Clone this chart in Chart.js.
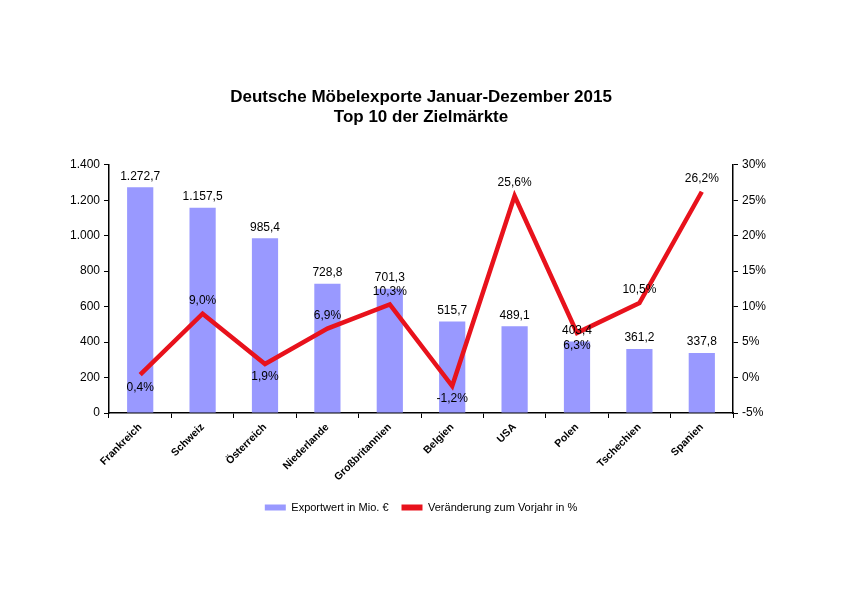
<!DOCTYPE html>
<html>
<head>
<meta charset="utf-8">
<script src="https://cdn.jsdelivr.net/npm/chart.js@4.4.1/dist/chart.umd.min.js"></script>
<style>
  html, body { margin: 0; padding: 0; background: #fff; }
  #wrap { width: 842px; height: 595px; }
</style>
</head>
<body>
<div id="wrap"><canvas id="c" width="842" height="595"></canvas></div>
<script>
// data
const countries = ["Frankreich", "Schweiz", "Österreich", "Niederlande", "Großbritannien", "Belgien", "USA", "Polen", "Tschechien", "Spanien"];
const exportValues = [1272.7, 1157.5, 985.4, 728.8, 701.3, 515.7, 489.1, 403.4, 361.2, 337.8];
const changePct = [0.4, 9.0, 1.9, 6.9, 10.3, -1.2, 25.6, 6.3, 10.5, 26.2];
const titleLines = ["Deutsche Möbelexporte Januar-Dezember 2015", "Top 10 der Zielmärkte"];
const seriesNames = ["Exportwert in Mio. €", "Veränderung zum Vorjahr in %"];

const FONT = "'Liberation Sans', Arial, sans-serif";
const BAR = "#9999ff", RED = "#e8121c";

// german number format: 1.272,7
function de(n, dec) {
  const s = Math.abs(n).toFixed(dec);
  let [i, f] = s.split(".");
  i = i.replace(/\B(?=(\d{3})+(?!\d))/g, ".");
  return (n < 0 ? "-" : "") + i + (f ? "," + f : "");
}

// value labels for bars and line points
const valueLabels = {
  id: "valueLabels",
  afterDatasetsDraw(chart) {
    const ctx = chart.ctx;
    ctx.save();
    ctx.font = "12px " + FONT;
    ctx.fillStyle = "#000";
    ctx.textAlign = "center";
    ctx.textBaseline = "middle";
    chart.getDatasetMeta(0).data.forEach((bar, i) => {
      ctx.fillText(de(exportValues[i], 1), bar.x, bar.y - 11);
    });
    chart.getDatasetMeta(1).data.forEach((pt, i) => {
      const v = changePct[i];
      const prev = i > 0 ? changePct[i - 1] : Infinity;
      const next = i < changePct.length - 1 ? changePct[i + 1] : Infinity;
      const below = v < prev && v < next;  // local minima get label underneath
      ctx.fillText(de(v, 1) + "%", pt.x, pt.y + (below ? 13 : -13));
    });
    ctx.restore();
  }
};

Chart.defaults.font.family = FONT;
Chart.defaults.color = "#000";

new Chart(document.getElementById("c"), {
  data: {
    labels: countries,
    datasets: [
      { type: "bar", label: seriesNames[0], data: exportValues, backgroundColor: BAR, yAxisID: "y", order: 2,
        categoryPercentage: 1, barPercentage: 0.42 },
      { type: "line", label: seriesNames[1], data: changePct, borderColor: RED, backgroundColor: RED, borderWidth: 4.5,
        pointRadius: 0, tension: 0, yAxisID: "y1", order: 1 }
    ]
  },
  options: {
    responsive: false,
    animation: false,
    layout: { padding: { top: 87, bottom: 72, left: 0, right: 0 } },
    plugins: {
      title: {
        display: true, text: titleLines, color: "#000",
        font: { size: 17, weight: "bold", lineHeight: 1.2 },
        padding: { top: 0, bottom: 37 }
      },
      legend: {
        position: "bottom",
        labels: {
          boxWidth: 21, boxHeight: 6, padding: 13, font: { size: 11 }, color: "#000",
          sort: (a, b) => a.datasetIndex - b.datasetIndex,
          generateLabels(chart) {
            const items = Chart.defaults.plugins.legend.labels.generateLabels(chart);
            items.forEach(it => { it.lineWidth = 0; });
            return items;
          }
        }
      },
      tooltip: { enabled: false }
    },
    scales: {
      x: {
        grid: { display: true, drawOnChartArea: false, color: "#000", tickLength: 5, offset: true },
        border: { color: "#000", width: 1.5 },
        ticks: { minRotation: 45, maxRotation: 45, font: { size: 10.5, weight: "bold" }, padding: 3 },
        afterFit(s) { s.height = 76; }
      },
      y: {
        position: "left", min: 0, max: 1400,
        grid: { display: true, drawOnChartArea: false, color: "#000", tickLength: 5 },
        border: { color: "#000", width: 1.5 },
        ticks: { stepSize: 200, font: { size: 12 }, padding: 4, callback: v => de(v, 0) },
        afterFit(s) { s.width = 109; }
      },
      y1: {
        position: "right", min: -5, max: 30,
        grid: { display: true, drawOnChartArea: false, color: "#000", tickLength: 5 },
        border: { color: "#000", width: 1.5 },
        ticks: { stepSize: 5, font: { size: 12 }, padding: 4, callback: v => v + "%" },
        afterFit(s) { s.width = 109; }
      }
    }
  },
  plugins: [valueLabels]
});
</script>
</body>
</html>
